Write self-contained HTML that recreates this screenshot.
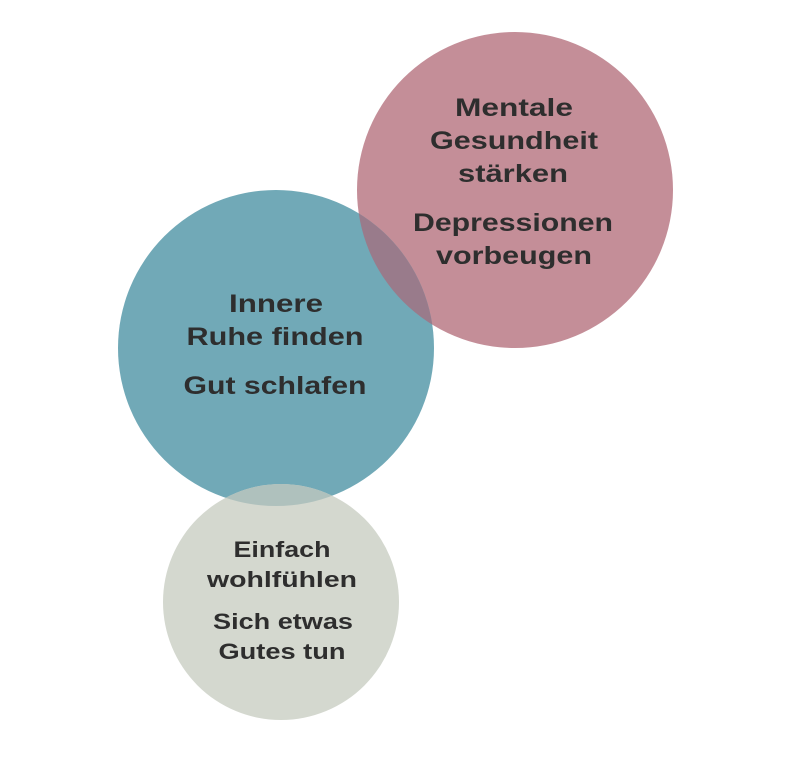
<!DOCTYPE html>
<html><head><meta charset="utf-8"><style>
html,body{margin:0;padding:0;background:#fff}
svg text{font-family:"Liberation Sans",sans-serif;font-weight:bold;fill:#2e2e2e;text-anchor:middle}
</style></head><body>
<svg width="800" height="763" viewBox="0 0 800 763" xmlns="http://www.w3.org/2000/svg">
<defs>
<clipPath id="teal"><circle cx="276" cy="348" r="158"/></clipPath>
</defs>
<circle cx="515" cy="190" r="158" fill="#c48e98"/>
<circle cx="276" cy="348" r="158" fill="#71a9b7"/>
<circle cx="281" cy="602" r="118" fill="#d4d8cf"/>
<g clip-path="url(#teal)">
<circle cx="515" cy="190" r="158" fill="#997b8b"/>
<circle cx="281" cy="602" r="118" fill="#afc1bd"/>
</g>
<g font-size="25" lengthAdjust="spacingAndGlyphs">
<text x="514" y="116" textLength="118" lengthAdjust="spacingAndGlyphs">Mentale</text>
<text x="514" y="149" textLength="168" lengthAdjust="spacingAndGlyphs">Gesundheit</text>
<text x="513" y="182" textLength="110" lengthAdjust="spacingAndGlyphs">stärken</text>
<text x="513" y="231" textLength="200" lengthAdjust="spacingAndGlyphs">Depressionen</text>
<text x="514" y="264" textLength="156" lengthAdjust="spacingAndGlyphs">vorbeugen</text>
<text x="276" y="312" textLength="94" lengthAdjust="spacingAndGlyphs">Innere</text>
<text x="275" y="345" textLength="177" lengthAdjust="spacingAndGlyphs">Ruhe finden</text>
<text x="275" y="394" textLength="183" lengthAdjust="spacingAndGlyphs">Gut schlafen</text>
</g>
<g font-size="22">
<text x="282" y="557" textLength="97" lengthAdjust="spacingAndGlyphs">Einfach</text>
<text x="282" y="587" textLength="150" lengthAdjust="spacingAndGlyphs">wohlfühlen</text>
<text x="283" y="629" textLength="140" lengthAdjust="spacingAndGlyphs">Sich etwas</text>
<text x="282" y="659" textLength="127" lengthAdjust="spacingAndGlyphs">Gutes tun</text>
</g>
</svg>
</body></html>
